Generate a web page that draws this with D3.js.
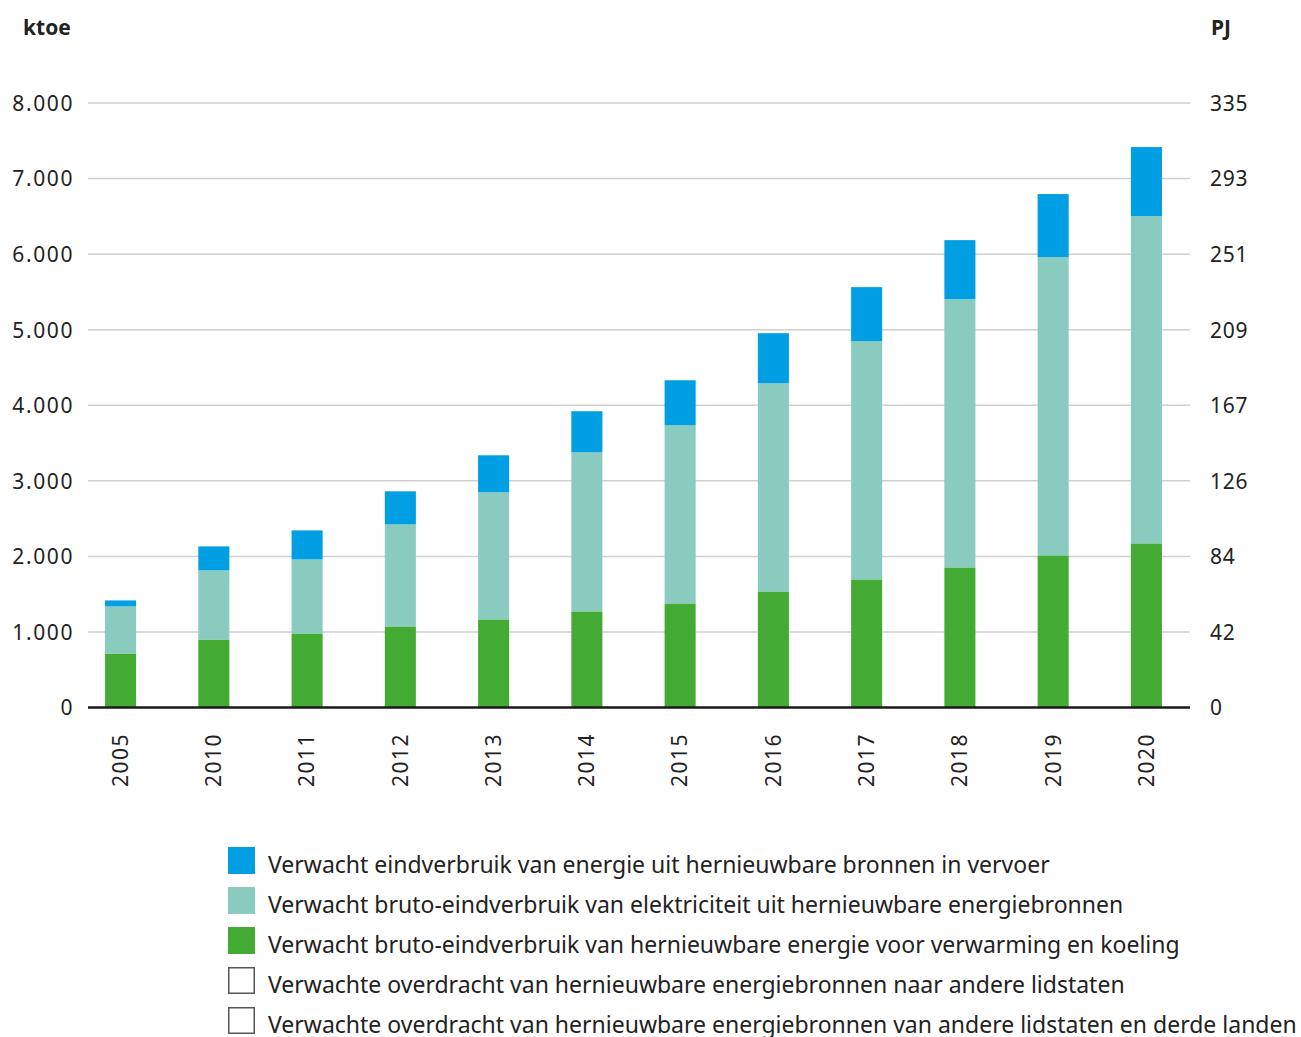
<!DOCTYPE html>
<html>
<head>
<meta charset="utf-8">
<script src="https://cdn.jsdelivr.net/npm/d3@7"></script>
<style>
  body { margin: 0; background: #fff; }
  text { font-family: "Noto Sans", "Open Sans", sans-serif; fill: #222; }
</style>
</head>
<body>
<svg id="chart" width="1301" height="1037"></svg>
<script>
// data (ktoe)
var years = ['2005','2010','2011','2012','2013','2014','2015','2016','2017','2018','2019','2020'];
var heating = [715, 900, 980, 1073, 1166, 1272, 1377, 1536, 1695, 1854, 2013, 2172];
var electricity = [623, 915, 980, 1351, 1682, 2105, 2358, 2755, 3153, 3550, 3947, 4331];
var transport = [79, 317, 384, 437, 490, 544, 596, 663, 715, 781, 835, 914];
var leftTicks = [0, 1000, 2000, 3000, 4000, 5000, 6000, 7000, 8000];
var rightTicks = ['0', '42', '84', '126', '167', '209', '251', '293', '335'];

var seriesKeys = ['heating', 'electricity', 'transport'];
var colors = { heating: '#43ab34', electricity: '#8acbc0', transport: '#009fe3' };

var legendItems = [
	{ label: 'Verwacht eindverbruik van energie uit hernieuwbare bronnen in vervoer', color: colors.transport },
	{ label: 'Verwacht bruto-eindverbruik van elektriciteit uit hernieuwbare energiebronnen', color: colors.electricity },
	{ label: 'Verwacht bruto-eindverbruik van hernieuwbare energie voor verwarming en koeling', color: colors.heating },
	{ label: 'Verwachte overdracht van hernieuwbare energiebronnen naar andere lidstaten', color: null },
	{ label: 'Verwachte overdracht van hernieuwbare energiebronnen van andere lidstaten en derde landen', color: null }
];

var svg = d3.select('#chart');

var rows = years.map(function (y, i) {
	return { year: y, heating: heating[i], electricity: electricity[i], transport: transport[i] };
});

var x = d3.scaleBand().domain(years).range([74, 1193]).paddingInner(0.667).paddingOuter(0.333);
var y = d3.scaleLinear().domain([0, 8000]).range([707.5, 103]);

var fmt = function (d) { return d3.format(',')(d).replace(/,/g, '.'); };

// gridlines
svg.append('g').selectAll('line').data(leftTicks.slice(1)).enter().append('line')
	.attr('x1', 88).attr('x2', 1190)
	.attr('y1', function (d) { return y(d); })
	.attr('y2', function (d) { return y(d); })
	.attr('stroke', '#cfcfcf').attr('stroke-width', 1.5);

// stacked bars
var stack = d3.stack().keys(seriesKeys)(rows);
svg.append('g').selectAll('g').data(stack).enter().append('g')
	.attr('fill', function (d) { return colors[d.key]; })
	.selectAll('rect').data(function (d) { return d; }).enter().append('rect')
	.attr('x', function (d) { return x(d.data.year); })
	.attr('width', x.bandwidth())
	.attr('y', function (d) { return y(d[1]); })
	.attr('height', function (d) { return y(d[0]) - y(d[1]); });

// baseline
svg.append('line').attr('x1', 88).attr('x2', 1190)
	.attr('y1', y(0)).attr('y2', y(0))
	.attr('stroke', '#1a1a1a').attr('stroke-width', 2.5);

// left axis
var left = svg.append('g').attr('transform', 'translate(74,0)')
	.call(d3.axisLeft(y).tickValues(leftTicks).tickFormat(fmt).tickSize(0).tickPadding(0));
left.select('.domain').remove();
left.selectAll('text').attr('font-size', 21).attr('dy', '0.35em')
	.style('font-family', '"Noto Sans", sans-serif').style('letter-spacing', '1.6px').attr('fill', '#222');

// right axis: same positions, PJ labels
var right = svg.append('g').attr('transform', 'translate(1210,0)')
	.call(d3.axisRight(y).tickValues(leftTicks)
		.tickFormat(function (d, i) { return rightTicks[i]; }).tickSize(0).tickPadding(0));
right.select('.domain').remove();
right.selectAll('text').attr('font-size', 21).attr('dy', '0.35em')
	.style('font-family', '"Noto Sans", sans-serif').style('letter-spacing', '0.8px').attr('fill', '#222');

// year labels, rotated
var bottom = svg.append('g').attr('transform', 'translate(0,733)')
	.call(d3.axisBottom(x).tickSize(0).tickPadding(0));
bottom.select('.domain').remove();
bottom.selectAll('text')
	.attr('font-size', 21)
	.style('font-family', '"Noto Sans", sans-serif')
	.style('letter-spacing', '1.5px')
	.attr('fill', '#222')
	.attr('text-anchor', 'end')
	.attr('transform', 'rotate(-90)')
	.attr('x', 0).attr('y', 0)
	.attr('dx', 0).attr('dy', '0.35em');
bottom.selectAll('.tick').attr('transform', function (d) {
	return 'translate(' + (x(d) + x.bandwidth() / 2) + ',0)';
});

// unit titles
svg.append('text').attr('x', 23).attr('y', 35).attr('font-size', 21).attr('font-weight', 'bold').text('ktoe');
svg.append('text').attr('x', 1211).attr('y', 35).attr('font-size', 21).attr('font-weight', 'bold').text('PJ');

// legend
var legend = svg.append('g').attr('transform', 'translate(228,847)');
var item = legend.selectAll('g').data(legendItems).enter().append('g')
	.attr('transform', function (d, i) { return 'translate(0,' + (i * 40) + ')'; });
item.append('rect')
	.attr('x', function (d) { return d.color ? 0 : 0.75; })
	.attr('y', function (d) { return d.color ? 0 : 0.75; })
	.attr('width', function (d) { return d.color ? 27 : 25.5; })
	.attr('height', function (d) { return d.color ? 27 : 25.5; })
	.attr('fill', function (d) { return d.color || '#fff'; })
	.attr('stroke', function (d) { return d.color ? 'none' : '#555'; })
	.attr('stroke-width', 1.5);
item.append('text')
	.attr('x', 40).attr('y', 26)
	.attr('font-size', 23)
	.text(function (d) { return d.label; });
</script>
</body>
</html>
